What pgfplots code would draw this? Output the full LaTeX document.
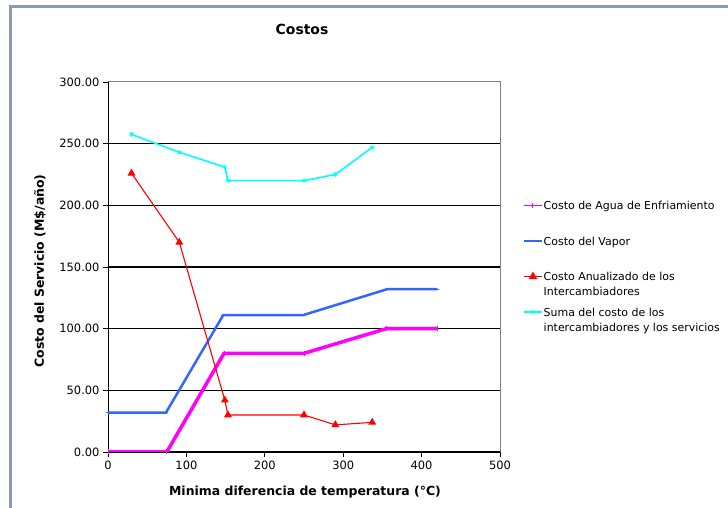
\documentclass[border=0pt]{standalone}
\usepackage{pgfplots}
\pgfplotsset{compat=1.18}
\usepackage{fontspec}
\setmainfont{DejaVu Sans}

\definecolor{agua}{RGB}{255,0,255}
\definecolor{vapor}{RGB}{51,102,255}
\definecolor{interc}{RGB}{255,0,0}
\definecolor{suma}{RGB}{0,255,255}
\definecolor{marco}{RGB}{140,152,180}
\definecolor{borde}{RGB}{128,128,128}

\begin{document}
\begin{tikzpicture}[x=1bp,y=1bp]
\fill[white] (0,0) rectangle (728,508);
\path[use as bounding box] (0,0) rectangle (728,508);
% chart area frame
\draw[marco, line width=3bp] (10,0) -- (10,501) -- (728,501);
\begin{axis}[
  at={(108bp,56bp)}, anchor=south west,
  scale only axis, width=392bp, height=370bp,
  xmin=0, xmax=500, ymin=0, ymax=300,
  xtick={0,100,...,500}, ytick={0,50,...,250},
  extra y ticks={300}, extra y tick style={grid=none},
  xtick pos=lower, ytick pos=left,
  tick align=outside, major tick length=5bp,
  tick style={black, line width=0.8bp},
  axis line style={borde, line width=1bp},
  ymajorgrids, major grid style={black, line width=1.2bp},
  /pgf/number format/assume math mode=true,
  ticklabel style={font=\fontsize{11.5}{13}\selectfont},
  yticklabel style={/pgf/number format/.cd, fixed, fixed zerofill, precision=2},
  extra y tick label={\pgfmathprintnumber[fixed, fixed zerofill, precision=2]{\tick}},
  xticklabel style={/pgf/number format/.cd, fixed, precision=0},
  title={\bfseries Costos},
  title style={at={(rel axis cs:0.495,1.127)}, anchor=center, font=\fontsize{14}{16}\selectfont},
  xlabel={\bfseries Minima diferencia de temperatura (°C)},
  xlabel style={at={(rel axis cs:0.5026,-0.108)}, anchor=center, font=\fontsize{12.5}{14}\selectfont},
  ylabel={\bfseries Costo del Servicio (M\$/año)},
  ylabel style={at={(rel axis cs:-0.1735,0.489)}, anchor=center, rotate=0, font=\fontsize{12.5}{14}\selectfont},
  legend cell align=left,
  legend image code/.code={\draw[yshift=11bp,mark repeat=2,mark phase=2,#1,line width=1.5bp] plot coordinates {(0bp,0bp) (9bp,0bp) (18bp,0bp)};},
  legend style={at={(rel axis cs:1.0587,0.68)}, anchor=north west, draw=none, fill=none,
    inner sep=0pt, row sep=3.5bp, column sep=1bp,
    font=\fontsize{11}{15}\selectfont,
    nodes={inner sep=0pt, text height=9bp, text depth=23bp}},
]
% left and bottom axis lines in black
\draw[black, line width=1bp] (rel axis cs:0,1) -- (rel axis cs:0,0) -- (rel axis cs:1,0);

\addplot[agua, line width=3.5bp, mark=|, mark size=2.5bp, mark options={line width=1bp}]
  coordinates {(0,0) (75,0) (148,80) (250,80) (355,100) (420,100)};
\addlegendentry{Costo de Agua de Enfriamiento}

\addplot[vapor, line width=2.5bp, mark=-, mark size=2bp, mark options={line width=1bp}]
  coordinates {(0,32) (74,32) (147,111) (249,111) (356,132) (420,132)};
\addlegendentry{Costo del Vapor}

\addplot[interc, line width=1.1bp, mark=triangle*, mark size=3.5bp]
  coordinates {(30,226) (91,170) (149,42) (153,30) (250,30) (290,22) (337,24)};
\addlegendentry{\parbox[t]{180bp}{\raggedright Costo Anualizado de los\\Intercambiadores}}

\addplot[suma, line width=1.6bp, mark=asterisk, mark size=2.5bp, mark options={line width=0.8bp}]
  coordinates {(30,257.5) (91,243) (149,231) (153,220) (250,220) (290,225) (337,247)};
\addlegendentry{\parbox[t]{185bp}{\raggedright Suma del costo de los\\intercambiadores y los servicios}}
\end{axis}
\end{tikzpicture}
\end{document}
